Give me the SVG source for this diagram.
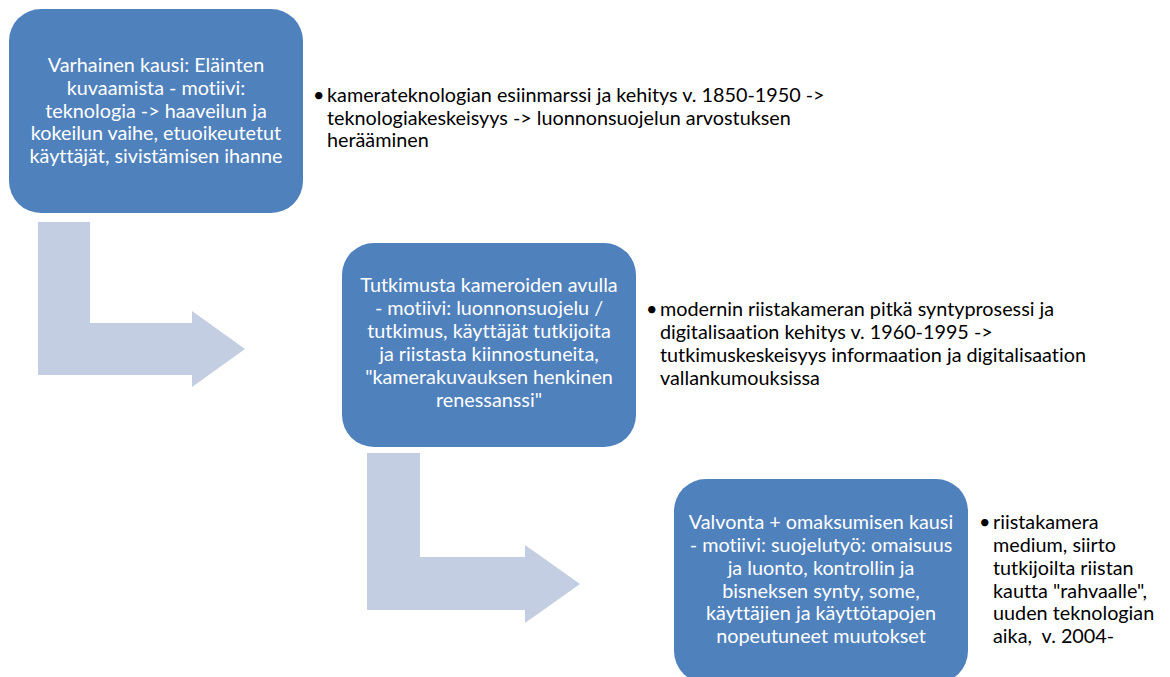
<svg xmlns="http://www.w3.org/2000/svg" width="1170" height="677" viewBox="0 0 1170 677">
<style>
.box{fill:#4F81BD}
.arrow{fill:#C4CEE2}
.bt{font-family:Lato,"Liberation Sans",sans-serif;font-size:19.8px;fill:#FFFFFF;text-anchor:middle;font-variant-ligatures:none}
.tx{font-family:Lato,"Liberation Sans",sans-serif;font-size:19.8px;fill:#000000;font-variant-ligatures:none}
</style>
<rect width="1170" height="677" fill="#FFFFFF"/>
<g id="connectors">
<path class="arrow" d="M38,222 H90 V323 H192 V311 L245,349 L192,387 V375 H38 Z"/>
<path class="arrow" d="M367,453 H420 V557 H525 V545 L580,584 L525,623 V610 H367 Z"/>
</g>
<g id="node1">
<rect class="box" x="9" y="9" width="294" height="204" rx="32" ry="32"/>
<text class="bt" x="156" y="72">Varhainen kausi: Eläinten</text>
<text class="bt" x="156" y="95">kuvaamista - motiivi:</text>
<text class="bt" x="156" y="118">teknologia -&gt; haaveilun ja</text>
<text class="bt" x="156" y="140">kokeilun vaihe, etuoikeutetut</text>
<text class="bt" x="156" y="163">käyttäjät, sivistämisen ihanne</text>
</g>
<g id="note1">
<text class="tx" x="313" y="102">•</text>
<text class="tx" x="327" y="102">kamerateknologian esiinmarssi ja kehitys v. 1850-1950 -&gt;</text>
<text class="tx" x="327" y="125">teknologiakeskeisyys -&gt; luonnonsuojelun arvostuksen</text>
<text class="tx" x="327" y="147">herääminen</text>
</g>
<g id="node2">
<rect class="box" x="342" y="243" width="294" height="204" rx="32" ry="32"/>
<text class="bt" x="489" y="292">Tutkimusta kameroiden avulla</text>
<text class="bt" x="489" y="315">- motiivi: luonnonsuojelu /</text>
<text class="bt" x="489" y="338">tutkimus, käyttäjät tutkijoita</text>
<text class="bt" x="489" y="361">ja riistasta kiinnostuneita,</text>
<text class="bt" x="489" y="384">"kamerakuvauksen henkinen</text>
<text class="bt" x="489" y="407">renessanssi"</text>
</g>
<g id="note2">
<text class="tx" x="646" y="316">•</text>
<text class="tx" x="660" y="316">modernin riistakameran pitkä syntyprosessi ja</text>
<text class="tx" x="660" y="339">digitalisaation kehitys v. 1960-1995 -&gt;</text>
<text class="tx" x="660" y="362">tutkimuskeskeisyys informaation ja digitalisaation</text>
<text class="tx" x="660" y="385">vallankumouksissa</text>
</g>
<g id="node3">
<rect class="box" x="674" y="479" width="294" height="204" rx="32" ry="32"/>
<text class="bt" x="821" y="529">Valvonta + omaksumisen kausi</text>
<text class="bt" x="821" y="552">- motiivi: suojelutyö: omaisuus</text>
<text class="bt" x="821" y="575">ja luonto, kontrollin ja</text>
<text class="bt" x="821" y="598">bisneksen synty, some,</text>
<text class="bt" x="821" y="620">käyttäjien ja käyttötapojen</text>
<text class="bt" x="821" y="643">nopeutuneet muutokset</text>
</g>
<g id="note3">
<text class="tx" x="979" y="529">•</text>
<text class="tx" x="993" y="529">riistakamera</text>
<text class="tx" x="993" y="552">medium, siirto</text>
<text class="tx" x="993" y="575">tutkijoilta riistan</text>
<text class="tx" x="993" y="598">kautta "rahvaalle",</text>
<text class="tx" x="993" y="620">uuden teknologian</text>
<text class="tx" x="993" y="643" xml:space="preserve">aika,  v. 2004-</text>
</g>
</svg>
